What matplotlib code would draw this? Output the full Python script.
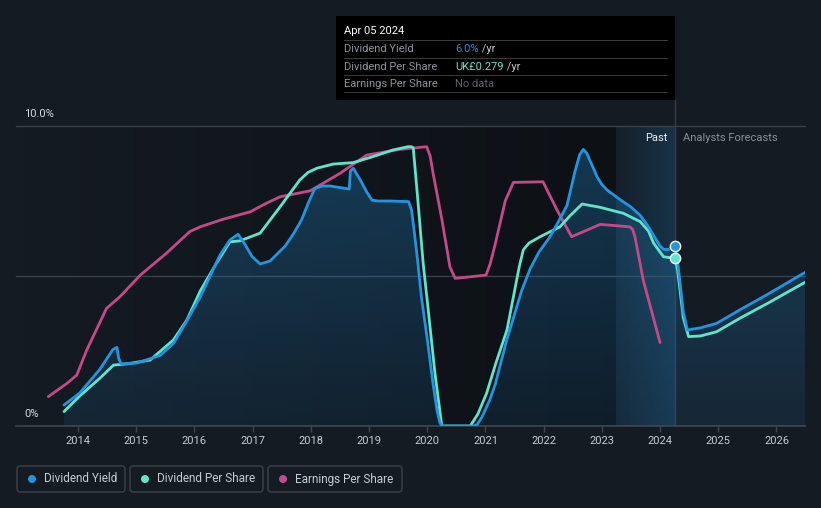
import numpy as np
import matplotlib
matplotlib.use('Agg')
import matplotlib.pyplot as plt
from matplotlib.patches import Rectangle, FancyBboxPatch, Circle
from matplotlib.transforms import IdentityTransform

plt.rcParams['font.family'] = ['Roboto', 'DejaVu Sans']

# Dividend Yield (%) - past
dy_t = [2013.76, 2014.03, 2014.38, 2014.60, 2014.67, 2014.70, 2014.74, 2015.01, 2015.41, 2015.64,
        2015.87, 2016.10, 2016.27, 2016.44, 2016.61, 2016.75, 2016.87, 2016.99, 2017.13, 2017.30,
        2017.56, 2017.70, 2017.84, 2017.96, 2018.07, 2018.20, 2018.33, 2018.66, 2018.68, 2018.73,
        2018.85, 2018.96, 2019.05, 2019.15, 2019.36, 2019.68, 2019.73, 2019.77, 2019.83, 2019.90,
        2020.00, 2020.10, 2020.17, 2020.22, 2020.25, 2020.79, 2020.86, 2020.94, 2021.00, 2021.08,
        2021.17, 2021.25, 2021.37, 2021.48, 2021.62, 2021.77, 2021.92, 2022.11, 2022.25, 2022.40,
        2022.48, 2022.54, 2022.62, 2022.68, 2022.74, 2022.83, 2022.92, 2023.00, 2023.10, 2023.31,
        2023.50, 2023.66, 2023.78, 2023.89, 2024.00, 2024.06, 2024.14, 2024.26]
dy_v = [0.70, 1.10, 1.90, 2.55, 2.62, 2.25, 2.07, 2.10, 2.35, 2.75,
        3.50, 4.30, 5.00, 5.70, 6.20, 6.39, 6.05, 5.65, 5.40, 5.50,
        6.00, 6.40, 6.87, 7.45, 7.92, 8.00, 8.00, 7.90, 8.50, 8.59,
        8.20, 7.80, 7.53, 7.50, 7.50, 7.48, 7.20, 6.60, 5.60, 4.30,
        2.90, 1.40, 0.50, 0.10, 0.00, 0.00, 0.05, 0.30, 0.55, 0.90,
        1.40, 2.00, 2.90, 3.60, 4.50, 5.25, 5.80, 6.31, 6.80, 7.35,
        8.00, 8.50, 9.05, 9.22, 9.10, 8.70, 8.30, 8.05, 7.85, 7.55,
        7.30, 7.02, 6.70, 6.35, 6.00, 5.89, 5.88, 6.00]
# Dividend Yield forecast
dy_ft = [2024.26, 2024.30, 2024.40, 2024.47, 2024.69, 2024.97, 2025.37, 2025.83, 2026.50]
dy_fv = [6.00, 5.50, 3.80, 3.20, 3.27, 3.42, 3.87, 4.37, 5.13]

# Dividend Per Share (scaled to the yield axis)
dps_t = [2013.76, 2014.03, 2014.38, 2014.61, 2014.84, 2015.24, 2015.64, 2015.87, 2016.10, 2016.38,
         2016.61, 2016.78, 2017.13, 2017.47, 2017.81, 2017.95, 2018.10, 2018.38, 2018.73, 2019.07,
         2019.41, 2019.67, 2019.73, 2019.76, 2019.84, 2019.93, 2020.01, 2020.13, 2020.25, 2020.74,
         2020.87, 2021.02, 2021.18, 2021.37, 2021.51, 2021.58, 2021.65, 2021.75, 2021.94, 2022.28,
         2022.45, 2022.66, 2022.97, 2023.37, 2023.66, 2023.80, 2023.89, 2024.06, 2024.26]
dps_v = [0.48, 1.00, 1.60, 2.03, 2.07, 2.20, 2.87, 3.53, 4.50, 5.43,
         6.14, 6.17, 6.43, 7.30, 8.20, 8.45, 8.59, 8.73, 8.78, 8.98,
         9.20, 9.31, 9.31, 9.27, 7.50, 5.42, 4.00, 1.80, 0.00, 0.00,
         0.40, 1.09, 2.10, 3.20, 4.60, 5.30, 5.87, 6.10, 6.31, 6.64,
         7.00, 7.40, 7.29, 7.09, 6.81, 6.50, 6.09, 5.64, 5.59]
dps_ft = [2024.26, 2024.30, 2024.40, 2024.49, 2024.69, 2024.97, 2025.37, 2025.83, 2026.50]
dps_fv = [5.59, 5.20, 3.60, 2.98, 3.00, 3.14, 3.59, 4.07, 4.80]

# Earnings Per Share (scaled)
eps_t = [2013.49, 2013.81, 2013.98, 2014.15, 2014.49, 2014.72, 2015.07, 2015.52, 2015.92, 2016.10,
         2016.49, 2016.96, 2017.21, 2017.47, 2017.99, 2018.50, 2018.96, 2019.53, 2019.99, 2020.05,
         2020.10, 2020.25, 2020.39, 2020.48, 2021.01, 2021.08, 2021.16, 2021.34, 2021.48, 2021.99,
         2022.05, 2022.23, 2022.48, 2022.71, 2022.97, 2023.48, 2023.53, 2023.57, 2023.71, 2024.00]
eps_v = [0.98, 1.42, 1.70, 2.53, 3.92, 4.31, 5.03, 5.76, 6.48, 6.64,
         6.89, 7.14, 7.40, 7.64, 7.84, 8.42, 9.03, 9.22, 9.31, 9.00,
         8.43, 6.90, 5.30, 4.92, 5.03, 5.40, 6.00, 7.50, 8.12, 8.14,
         7.90, 7.20, 6.31, 6.50, 6.72, 6.64, 6.55, 6.30, 4.87, 2.78]

years = list(range(2014, 2027))
now = 2024.26
past_start = 2023.24

BG = '#151b23'
BLUE = '#2394df'
TEAL = '#5fe5c9'
PINK = '#c44a87'

fig = plt.figure(figsize=(8.21, 5.08), dpi=100, facecolor=BG)
ax = fig.add_axes([16/821, 1-426/508, 789/821, 300/508])
ax.set_facecolor(BG)
x0, x1 = 2012.935, 2026.49
ax.set_xlim(x0, x1)
ax.set_ylim(0, 10)
for s in ax.spines.values():
    s.set_visible(False)

# darkening gradient over the history
grad = np.zeros((2, 256, 4))
grad[..., 3] = np.linspace(0.0, 0.38, 256)
ax.imshow(grad, extent=(x0, past_start, 0, 10), aspect='auto', zorder=0, interpolation='bilinear')

# "Past" band
band = np.zeros((2, 256, 4))
band[..., 0], band[..., 1], band[..., 2] = 0.14, 0.58, 0.87
band[..., 3] = np.linspace(0.04, 0.2, 256)
ax.imshow(band, extent=(past_start, now, 0, 10), aspect='auto', zorder=0.5, interpolation='bilinear')

# grid lines
for yv in (5, 10):
    ax.axhline(yv, color='#3a3f48', lw=1, zorder=1, clip_on=False)
ax.axhline(0, color='#3f444d', lw=1.2, zorder=1, clip_on=False)

# area under the dividend yield with vertical gradient
all_t = dy_t + dy_ft[1:]
all_v = dy_v + dy_fv[1:]
poly = ax.fill_between(all_t, all_v, 0, color='none', lw=0)
fg = np.zeros((256, 2, 4))
fg[..., 0], fg[..., 1], fg[..., 2] = 0.14, 0.58, 0.87
fg[..., 3] = np.linspace(0.32, 0.1, 256)[:, None]
im = ax.imshow(fg, extent=(x0, x1, 0, 10), aspect='auto', zorder=1.5, origin='upper')
im.set_clip_path(poly.get_paths()[0], transform=ax.transData)

# lines
kw = dict(lw=2, solid_joinstyle='round', solid_capstyle='round')
ax.plot(eps_t, eps_v, color=PINK, zorder=3, **kw)
ax.plot(dps_t, dps_v, color=TEAL, zorder=3.2, **kw)
ax.plot(dps_ft, dps_fv, color=TEAL, zorder=3.2, **kw)
ax.plot(dy_t, dy_v, color=BLUE, zorder=3.4, **kw)
ax.plot(dy_ft, dy_fv, color=BLUE, zorder=3.4, **kw)

ax.scatter([now], [dy_v[-1]], s=55, color=BLUE, edgecolor='white', lw=1, zorder=5)
ax.scatter([now], [dps_v[-1]], s=55, color=TEAL, edgecolor='white', lw=1, zorder=5)

# vertical "today" line reaching up to the tooltip
ax.plot([now, now], [0, 10 + 26/30], color='#333c48', lw=1, zorder=1, clip_on=False)

# axes ticks
ax.set_yticks([])
ax.set_xticks(years)
ax.set_xticklabels([str(y) for y in years])
ax.tick_params(axis='x', length=4, width=1, color='#3f444d', labelcolor='#c8ccd2',
               labelsize=8, pad=3)

# y labels
ax.text((24-16)/789, 10 + 12/30, '10.0%', transform=ax.get_yaxis_transform(),
        color='#d8dbe0', fontsize=8, va='center', ha='left')
ax.text((24-16)/789, 12/30, '0%', transform=ax.get_yaxis_transform(),
        color='#d8dbe0', fontsize=8, va='center', ha='left')

# Past / Analysts Forecasts
fig.text(667/821, 1-138/508, 'Past', color='#eef0f2', fontsize=8, ha='right', va='center')
fig.text(683/821, 1-138/508, 'Analysts Forecasts', color='#8a8f98', fontsize=8, ha='left', va='center')

# tooltip
px = IdentityTransform()
H = 508
fig.add_artist(Rectangle((336, H-100), 339, 84, transform=px, facecolor='#000000',
                         edgecolor='none', zorder=10))
fig.text(344/821, 1-31/508, 'Apr 05 2024', color='white', fontsize=8, va='center', zorder=11)
for ly in (41, 59, 76, 93):
    fig.add_artist(Rectangle((344, H-ly), 324, 0.8, transform=px, facecolor='#3a3a3a',
                             edgecolor='none', zorder=11))
rows = [('Dividend Yield', '6.0%', BLUE, ' /yr'),
        ('Dividend Per Share', 'UK£0.279', TEAL, ' /yr'),
        ('Earnings Per Share', 'No data', '#5e636b', '')]
for (lab, val, col, suf), ry in zip(rows, (49, 67, 84)):
    fig.text(344/821, 1-ry/508, lab, color='#8e939b', fontsize=8, va='center', zorder=11)
    t = fig.text(455/821, 1-ry/508, val, color=col, fontsize=8, va='center', zorder=11)
    if suf:
        fig.canvas.draw()
        bb = t.get_window_extent()
        fig.text(bb.x1/821, 1-ry/508, suf, color='#c4c6ca', fontsize=8, va='center', zorder=11)

# legend
items = [('Dividend Yield', BLUE, 17, 108), ('Dividend Per Share', TEAL, 130, 133),
         ('Earnings Per Share', PINK, 268, 134)]
for lab, col, lx, lw_ in items:
    fig.add_artist(FancyBboxPatch((lx, H-492), lw_, 26, boxstyle='round,pad=0,rounding_size=3',
                                  transform=px, facecolor='none', edgecolor='#3c424d', lw=1))
    fig.add_artist(Circle((lx+15, H-479), 4, transform=px, facecolor=col, edgecolor='none'))
    fig.text((lx+27)/821, 1-479/508, lab, color='#c8ccd2', fontsize=8.5, va='center')

fig.savefig('out.png', dpi=100, facecolor=BG)
